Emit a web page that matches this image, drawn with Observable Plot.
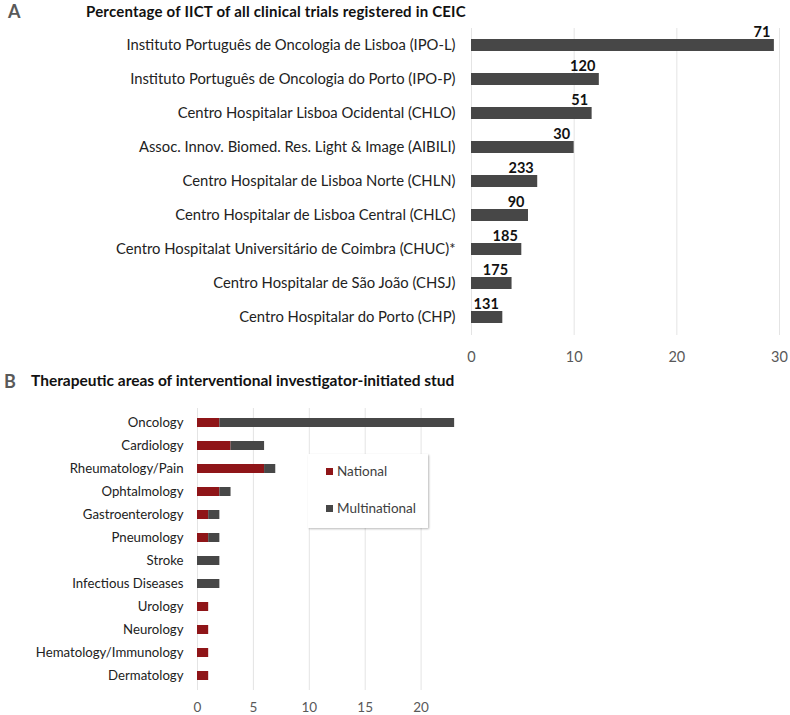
<!DOCTYPE html>
<html>
<head>
<meta charset="utf-8">
<script src="https://cdn.jsdelivr.net/npm/d3@7"></script>
<script src="https://cdn.jsdelivr.net/npm/@observablehq/plot@0.6"></script>
<style>
  html, body { margin: 0; padding: 0; background: #fff; }
  #root { position: relative; width: 790px; height: 715px; overflow: hidden; font-family: Lato, "Open Sans", sans-serif; color: #111; }
  .abs { position: absolute; white-space: nowrap; }
  .panel { font-weight: bold; color: #595959; font-size: 18px; }
  .title { font-weight: bold; font-size: 15px; color: #111; }
  .legend { background: #fff; box-shadow: 1px 1px 2px rgba(0,0,0,0.28); }
  .legend .item { position: absolute; left: 18px; font-size: 13.5px; color: #404040; }
  .legend .sw { display: inline-block; width: 7px; height: 7px; margin-right: 4px; vertical-align: 1px; }
  svg.plot { max-width: none !important; }
</style>
</head>
<body>
<div id="root"></div>
<script>
// Panel A data
const institutions = [
  "Instituto Português de Oncologia de Lisboa (IPO-L)",
  "Instituto Português de Oncologia do Porto (IPO-P)",
  "Centro Hospitalar Lisboa Ocidental (CHLO)",
  "Assoc. Innov. Biomed. Res. Light & Image (AIBILI)",
  "Centro Hospitalar de Lisboa Norte (CHLN)",
  "Centro Hospitalar de Lisboa Central (CHLC)",
  "Centro Hospitalat Universitário de Coimbra (CHUC)*",
  "Centro Hospitalar de São João (CHSJ)",
  "Centro Hospitalar do Porto (CHP)"
];
const percentIICT = [29.5, 12.45, 11.75, 10.0, 6.45, 5.55, 4.9, 3.95, 3.05];
const trialCounts = [71, 120, 51, 30, 233, 90, 185, 175, 131];
const ticksA = [0, 10, 20, 30];

// Panel B data
const areas = ["Oncology", "Cardiology", "Rheumatology/Pain", "Ophtalmology", "Gastroenterology",
  "Pneumology", "Stroke", "Infectious Diseases", "Urology", "Neurology", "Hematology/Immunology", "Dermatology"];
const national =      [2, 3, 6, 2, 1, 1, 0, 0, 1, 1, 1, 1];
const multinational = [21, 3, 1, 1, 1, 1, 2, 2, 0, 0, 0, 0];
const seriesNames = ["National", "Multinational"];
const ticksB = [0, 5, 10, 15, 20];

const GREY = "#474747", RED = "#8f1518", GRID = "#e4e4e4";

const root = document.getElementById("root");

// ---------- Panel A ----------
const dataA = institutions.map((name, i) => ({name, pct: percentIICT[i], n: trialCounts[i]}));
const plotA = Plot.plot({
  width: 790, height: 365,
  marginTop: 28, marginBottom: 30, marginLeft: 471, marginRight: 11,
  style: {background: "transparent", fontFamily: "Lato, 'Open Sans', sans-serif", overflow: "visible", maxWidth: "none"},
  x: {domain: [0, 30], ticks: ticksA, label: null, tickSize: 0, tickPadding: 16, grid: false},
  y: {domain: institutions, label: null, tickSize: 0, tickPadding: 16, paddingInner: 0.647, paddingOuter: 0.32},
  marks: [
    Plot.ruleX(ticksA, {stroke: GRID, strokeWidth: 1}),
    Plot.barX(dataA, {x: "pct", y: "name", fill: GREY}),
    Plot.text(dataA, {x: "pct", y: "name", text: d => String(d.n), textAnchor: "end", dx: -4, dy: -13.5,
      fontWeight: "bold", fontSize: 14.5, fill: "#111"})
  ]
});
plotA.style.position = "absolute"; plotA.style.left = "0px"; plotA.style.top = "0px";
root.appendChild(plotA);
d3.select(plotA).selectAll("g[aria-label='y-axis tick label']").attr("font-size", 14.8).attr("fill", "#222");
d3.select(plotA).selectAll("g[aria-label='x-axis tick label']").attr("font-size", 14.5).attr("fill", "#595959");

// ---------- Panel B ----------
const dataB = [];
seriesNames.forEach((s, k) => areas.forEach((a, i) => {
  const v = (k === 0 ? national : multinational)[i];
  if (v > 0) dataB.push({area: a, type: s, value: v});
}));
const clipB = document.createElement("div");
clipB.style.cssText = "position:absolute;left:0;top:380px;width:457px;height:335px;overflow:hidden;";
const plotB = Plot.plot({
  width: 790, height: 335,
  marginTop: 28, marginBottom: 25, marginLeft: 197, marginRight: 313.5,
  style: {background: "transparent", fontFamily: "Lato, 'Open Sans', sans-serif", maxWidth: "none"},
  x: {domain: [0, 25], ticks: ticksB, label: null, tickSize: 0, tickPadding: 12},
  y: {domain: areas, label: null, tickSize: 0, tickPadding: 14, paddingInner: 0.595, paddingOuter: 0.31},
  color: {domain: seriesNames, range: [RED, GREY]},
  marks: [
    Plot.ruleX(ticksB, {stroke: GRID, strokeWidth: 1}),
    Plot.barX(dataB, {x: "value", y: "area", fill: "type", order: seriesNames})
  ]
});
clipB.appendChild(plotB);
root.appendChild(clipB);
d3.select(plotB).selectAll("g[aria-label='y-axis tick label']").attr("font-size", 13.2).attr("fill", "#222");
d3.select(plotB).selectAll("g[aria-label='x-axis tick label']").attr("font-size", 13.5).attr("fill", "#595959");

// Legend B
const leg = document.createElement("div");
leg.className = "abs legend";
leg.style.cssText += "left:308px;top:454px;width:120px;height:74px;";
seriesNames.forEach((s, k) => {
  const it = document.createElement("div");
  it.className = "item";
  it.style.top = (k === 0 ? 9 : 46) + "px";
  it.innerHTML = `<span class="sw" style="background:${k === 0 ? RED : GREY}"></span>${s}`;
  leg.appendChild(it);
});
root.appendChild(leg);

// Titles
function addText(cls, txt, css) {
  const d = document.createElement("div");
  d.className = "abs " + cls; d.textContent = txt; d.style.cssText += css; root.appendChild(d); return d;
}
addText("panel", "A", "left:8px;top:0px;");
addText("title", "Percentage of IICT of all clinical trials registered in CEIC", "left:86px;top:2px;letter-spacing:0.2px;");
addText("panel", "B", "left:4px;top:370px;");
addText("title", "Therapeutic areas of interventional investigator-initiated stud", "left:31px;top:371px;font-size:15.5px;");
</script>
</body>
</html>
